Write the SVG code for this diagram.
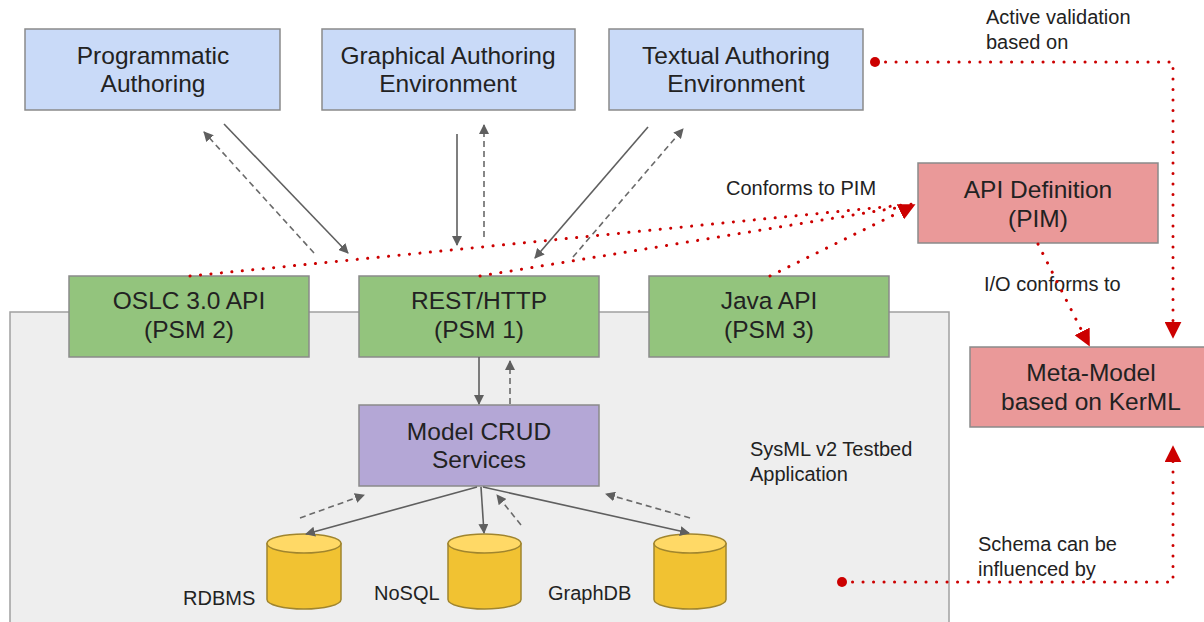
<svg xmlns="http://www.w3.org/2000/svg" width="1204" height="622" viewBox="0 0 1204 622">
<style>
text{font-family:"Liberation Sans",Arial,sans-serif;fill:#222}
.bt{font-size:24.5px;text-anchor:middle}
.lb{font-size:20px}
.box{stroke:#8a8a8a;stroke-width:1.5}
.blue{fill:#c9daf8}
.green{fill:#93c47d}
.red{fill:#ea9999}
.purple{fill:#b4a7d6}
.g{stroke:#5f5f5f;stroke-width:1.6;fill:none}
.gd{stroke:#6a6a6a;stroke-width:1.6;fill:none;stroke-dasharray:6 4}
.rd{stroke:#cc0000;stroke-width:3;fill:none;stroke-dasharray:0.1 10.4;stroke-linecap:round}
.cyl{fill:#f1c232;stroke:#a0852e;stroke-width:1.5}
.cyltop{fill:#ffd966;stroke:#a0852e;stroke-width:1.5}
</style>
<defs>
<marker id="ga" viewBox="0 0 10 10" refX="9" refY="5" markerWidth="10" markerHeight="10" markerUnits="userSpaceOnUse" orient="auto"><path d="M0,0 L10,5 L0,10 z" fill="#5f5f5f"/></marker>
<marker id="ra" viewBox="0 0 10 10" refX="9" refY="5" markerWidth="17" markerHeight="17" markerUnits="userSpaceOnUse" orient="auto"><path d="M0,0 L10,5 L0,10 z" fill="#cc0000"/></marker>
</defs>

<g id="container">
<rect x="10" y="312" width="939" height="330" fill="#eeeeee" stroke="#a0a0a0" stroke-width="1.5"/>
<text class="lb" x="750" y="456">SysML v2 Testbed</text>
<text class="lb" x="750" y="481">Application</text>
</g>

<g id="programmatic">
<rect class="box blue" x="25" y="29" width="255" height="81"/>
<text class="bt" x="153" y="64">Programmatic</text>
<text class="bt" x="153" y="92">Authoring</text>
</g>
<g id="graphical">
<rect class="box blue" x="322" y="29" width="253" height="81"/>
<text class="bt" x="448" y="64">Graphical Authoring</text>
<text class="bt" x="448" y="92">Environment</text>
</g>
<g id="textual">
<rect class="box blue" x="609" y="29" width="254" height="81"/>
<text class="bt" x="736" y="64">Textual Authoring</text>
<text class="bt" x="736" y="92">Environment</text>
</g>

<g id="oslc">
<rect class="box green" x="69" y="276" width="240" height="81"/>
<text class="bt" x="189" y="309">OSLC 3.0 API</text>
<text class="bt" x="189" y="338">(PSM 2)</text>
</g>
<g id="rest">
<rect class="box green" x="359" y="276" width="240" height="81"/>
<text class="bt" x="479" y="309">REST/HTTP</text>
<text class="bt" x="479" y="338">(PSM 1)</text>
</g>
<g id="java">
<rect class="box green" x="649" y="276" width="240" height="81"/>
<text class="bt" x="769" y="309">Java API</text>
<text class="bt" x="769" y="338">(PSM 3)</text>
</g>

<g id="apidef">
<rect class="box red" x="918" y="163" width="240" height="80"/>
<text class="bt" x="1038" y="198">API Definition</text>
<text class="bt" x="1038" y="227">(PIM)</text>
</g>
<g id="metamodel">
<rect class="box red" x="970" y="347" width="240" height="80"/>
<text class="bt" x="1091" y="381">Meta-Model</text>
<text class="bt" x="1091" y="410">based on KerML</text>
</g>

<g id="crud">
<rect class="box purple" x="359" y="405" width="240" height="81"/>
<text class="bt" x="479" y="440">Model CRUD</text>
<text class="bt" x="479" y="468">Services</text>
</g>

<g id="rdbms">
<path class="cyl" d="M267,543.5 L267,599.5 A37,9.5 0 0 0 341,599.5 L341,543.5 z"/>
<ellipse class="cyltop" cx="304" cy="543.5" rx="37" ry="9.5"/>
<text class="lb" x="183" y="605">RDBMS</text>
</g>
<g id="nosql">
<path class="cyl" d="M448,543.5 L448,599.5 A36.5,9.5 0 0 0 521,599.5 L521,543.5 z"/>
<ellipse class="cyltop" cx="484.5" cy="543.5" rx="36.5" ry="9.5"/>
<text class="lb" x="374" y="600">NoSQL</text>
</g>
<g id="graphdb">
<path class="cyl" d="M654,543.5 L654,599.5 A36,9.5 0 0 0 726,599.5 L726,543.5 z"/>
<ellipse class="cyltop" cx="690" cy="543.5" rx="36" ry="9.5"/>
<text class="lb" x="548" y="600">GraphDB</text>
</g>

<g id="labels">
<text class="lb" x="986" y="24">Active validation</text>
<text class="lb" x="986" y="49">based on</text>
<text class="lb" x="726" y="195">Conforms to PIM</text>
<text class="lb" x="984" y="291">I/O conforms to</text>
<text class="lb" x="978" y="551">Schema can be</text>
<text class="lb" x="978" y="576">influenced by</text>
</g>

<g id="connectors">
<line class="g" x1="224" y1="124" x2="348" y2="253" marker-end="url(#ga)"/>
<line class="gd" x1="314" y1="253" x2="204" y2="132" marker-end="url(#ga)"/>
<line class="g" x1="457" y1="134" x2="457" y2="245" marker-end="url(#ga)"/>
<line class="gd" x1="484" y1="237" x2="484" y2="125" marker-end="url(#ga)"/>
<line class="g" x1="648" y1="127" x2="535" y2="258" marker-end="url(#ga)"/>
<line class="gd" x1="573" y1="257" x2="683" y2="129" marker-end="url(#ga)"/>
<line class="g" x1="479" y1="357" x2="479" y2="404" marker-end="url(#ga)"/>
<line class="gd" x1="510" y1="404" x2="510" y2="361" marker-end="url(#ga)"/>
<line class="g" x1="477" y1="487" x2="306" y2="534" marker-end="url(#ga)"/>
<line class="g" x1="481" y1="487" x2="484" y2="533" marker-end="url(#ga)"/>
<line class="g" x1="483" y1="487" x2="689" y2="533" marker-end="url(#ga)"/>
<line class="gd" x1="300" y1="518" x2="364" y2="495" marker-end="url(#ga)"/>
<line class="gd" x1="521" y1="525" x2="497" y2="495" marker-end="url(#ga)"/>
<line class="gd" x1="690" y1="518" x2="606" y2="494" marker-end="url(#ga)"/>

<line class="rd" x1="190" y1="276" x2="914" y2="204"/>
<line class="rd" x1="480" y1="276" x2="914" y2="205"/>
<line class="rd" x1="770" y1="276" x2="914" y2="205" marker-end="url(#ra)"/>
<line class="rd" x1="1038" y1="244" x2="1089" y2="345" marker-end="url(#ra)"/>
<circle cx="875" cy="62" r="5" fill="#cc0000"/>
<polyline class="rd" points="875,62 1173,62 1173,337" marker-end="url(#ra)"/>
<circle cx="842" cy="582" r="5" fill="#cc0000"/>
<polyline class="rd" points="842,582 1173,582 1173,447" marker-end="url(#ra)"/>
</g>
</svg>
